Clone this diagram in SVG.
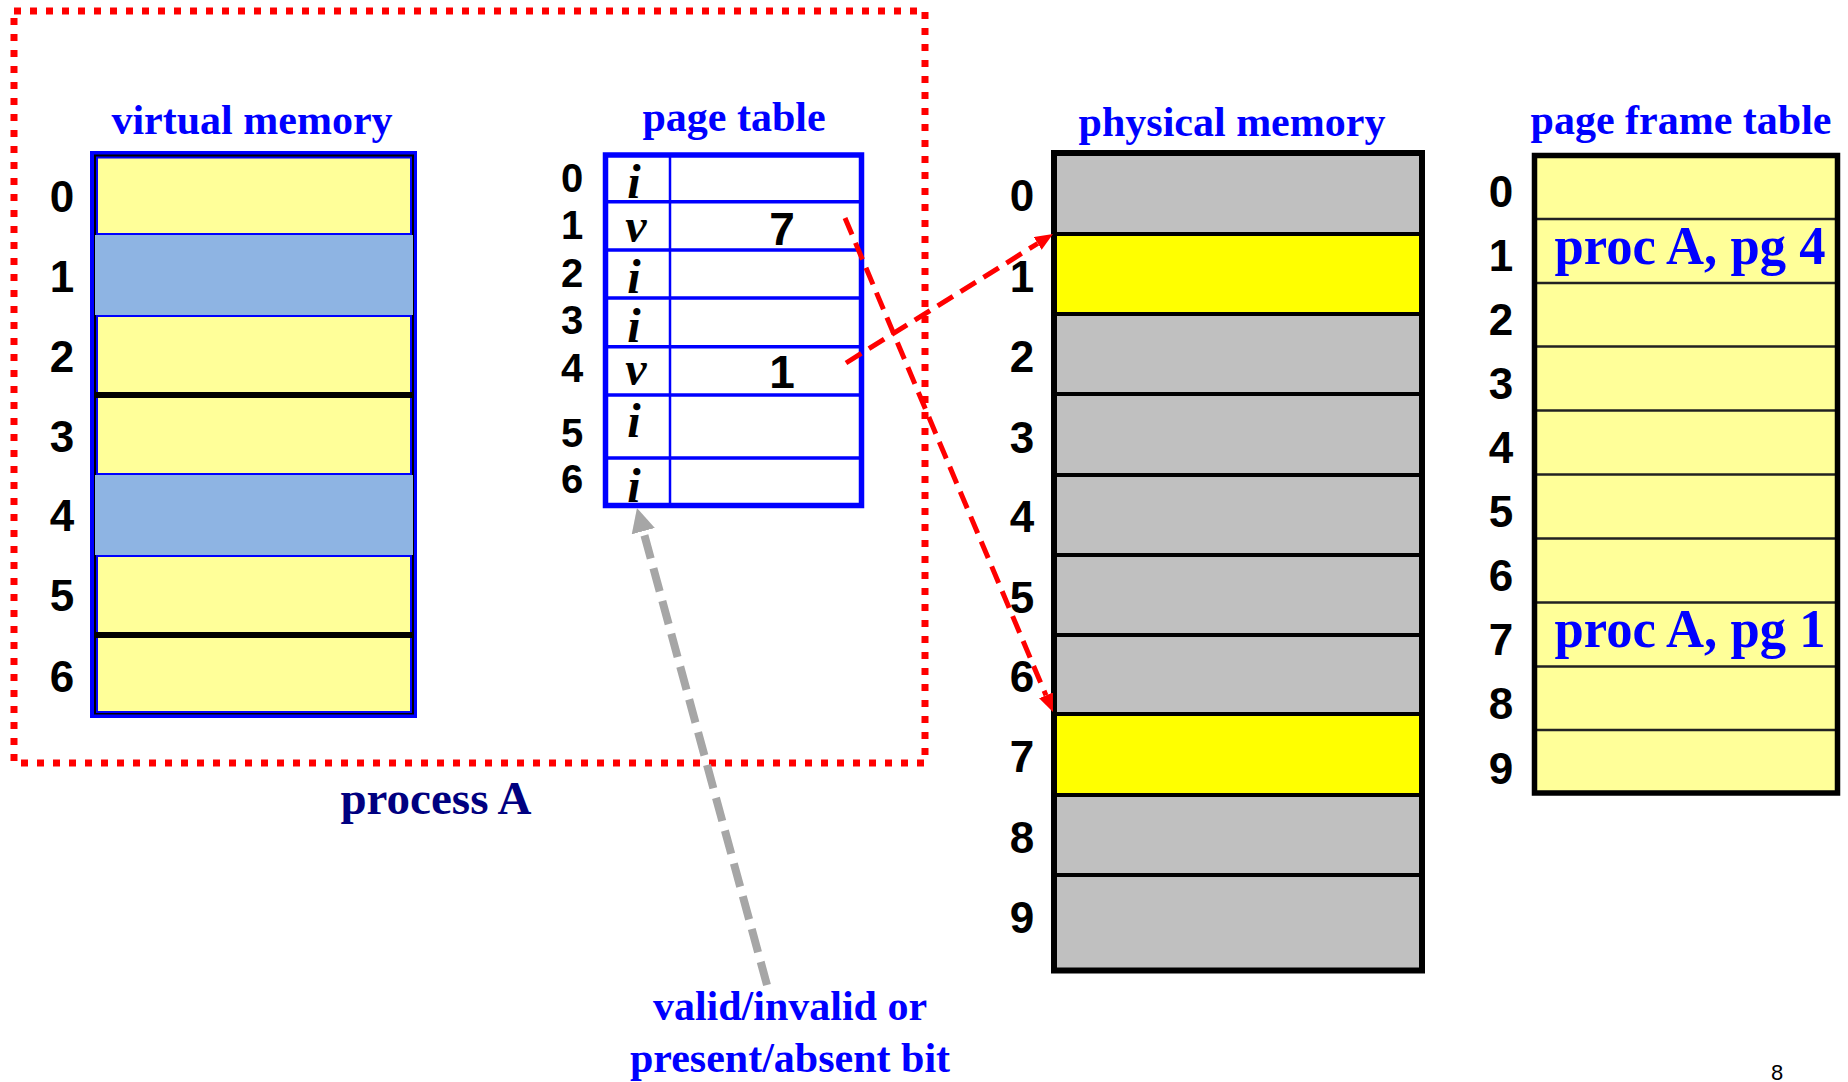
<svg xmlns="http://www.w3.org/2000/svg" width="1848" height="1082" viewBox="0 0 1848 1082">
  <defs>
    <style>
      .title{font-family:"Liberation Serif","Times New Roman",serif;font-weight:bold;font-size:42px;fill:#0000FF;text-anchor:middle}
      .num{font-family:"Liberation Sans",Arial,sans-serif;font-weight:bold;font-size:44px;fill:#000;text-anchor:middle}
      .pnum{font-family:"Liberation Sans",Arial,sans-serif;font-weight:bold;font-size:40px;fill:#000;text-anchor:middle}
      .bit{font-family:"Liberation Serif","Times New Roman",serif;font-style:italic;font-weight:bold;font-size:48px;fill:#000;text-anchor:middle}
      .val{font-family:"Liberation Sans",Arial,sans-serif;font-weight:bold;font-size:46px;fill:#000;text-anchor:middle}
      .proc{font-family:"Liberation Serif","Times New Roman",serif;font-weight:bold;font-size:54px;fill:#0000FF;text-anchor:middle}
      .procA{font-family:"Liberation Serif","Times New Roman",serif;font-weight:bold;font-size:47px;fill:#000080;text-anchor:middle}
      .vy{fill:#FFFF99;stroke:#0000FF;stroke-width:2}
      .vb{fill:#8EB4E3}
      .pg{fill:#C0C0C0}
      .py{fill:#FFFF00}
      .redarrow{fill:none;stroke:#FF0000;stroke-width:5;stroke-dasharray:18 9}
      .grayarrow{fill:none;stroke:#A6A6A6;stroke-width:8;stroke-dasharray:24 10}
    </style>
    <marker id="redHead" markerUnits="userSpaceOnUse" markerWidth="20" markerHeight="16" refX="0" refY="7.5" orient="auto">
      <path d="M0,0 L18,7.5 L0,15 z" fill="#FF0000"/>
    </marker>
    <marker id="grayHead" markerUnits="userSpaceOnUse" markerWidth="26" markerHeight="26" refX="0" refY="12" orient="auto">
      <path d="M0,0 L24,12 L0,24 z" fill="#A6A6A6"/>
    </marker>
  </defs>

  <rect width="1848" height="1082" fill="#FFFFFF"/>

  <g id="process-A-boundary">
    <rect x="14" y="11" width="911" height="752" fill="none" stroke="#FF0000" stroke-width="7" stroke-dasharray="7 9"/>
    <text class="procA" x="436" y="814">process A</text>
  </g>

  <g id="virtual-memory">
    <text class="title" x="252" y="134">virtual memory</text>
    <rect x="90" y="151" width="327" height="567" fill="#0000FF"/>
    <rect x="94" y="154.5" width="320" height="560" fill="#000000"/>
    <rect class="vy" x="97" y="157.5" width="314" height="76.5"/>
    <rect class="vb" x="95" y="235" width="318" height="80"/>
    <rect class="vy" x="97" y="316" width="314" height="78"/>
    <rect class="vy" x="97" y="396" width="314" height="78"/>
    <rect class="vb" x="95" y="475" width="318" height="80"/>
    <rect class="vy" x="97" y="556" width="314" height="78"/>
    <rect class="vy" x="97" y="636" width="314" height="76"/>
    <line x1="94" y1="395" x2="414" y2="395" stroke="#000" stroke-width="6"/>
    <line x1="94" y1="635" x2="414" y2="635" stroke="#000" stroke-width="6"/>
    <text class="num" x="62" y="212">0</text>
    <text class="num" x="62" y="292">1</text>
    <text class="num" x="62" y="372">2</text>
    <text class="num" x="62" y="452">3</text>
    <text class="num" x="62" y="531">4</text>
    <text class="num" x="62" y="611">5</text>
    <text class="num" x="62" y="692">6</text>
  </g>

  <g id="page-table">
    <text class="title" x="734" y="131">page table</text>
    <rect x="605.5" y="155" width="256" height="350.5" fill="#FFFFFF"/>
    <g stroke="#0000FF" stroke-width="3.5">
      <line x1="605.5" y1="201.7" x2="861.5" y2="201.7"/>
      <line x1="605.5" y1="250" x2="861.5" y2="250"/>
      <line x1="605.5" y1="298" x2="861.5" y2="298"/>
      <line x1="605.5" y1="346.7" x2="861.5" y2="346.7"/>
      <line x1="605.5" y1="395" x2="861.5" y2="395"/>
      <line x1="605.5" y1="458" x2="861.5" y2="458"/>
    </g>
    <line x1="670" y1="155" x2="670" y2="505.5" stroke="#0000FF" stroke-width="2.5"/>
    <rect x="605.5" y="155" width="256" height="350.5" fill="none" stroke="#0000FF" stroke-width="5.5"/>
    <text class="bit" x="634" y="198">i</text>
    <text class="bit" x="636" y="242">v</text>
    <text class="bit" x="634" y="293">i</text>
    <text class="bit" x="634" y="342">i</text>
    <text class="bit" x="636" y="385">v</text>
    <text class="bit" x="634" y="437">i</text>
    <text class="bit" x="634" y="502">i</text>
    <text class="val" x="782" y="245">7</text>
    <text class="val" x="782" y="388">1</text>
    <text class="pnum" x="572" y="192">0</text>
    <text class="pnum" x="572" y="239">1</text>
    <text class="pnum" x="572" y="287">2</text>
    <text class="pnum" x="572" y="334">3</text>
    <text class="pnum" x="572" y="382">4</text>
    <text class="pnum" x="572" y="447">5</text>
    <text class="pnum" x="572" y="493">6</text>
  </g>

  <g id="physical-memory">
    <text class="title" x="1232" y="136">physical memory</text>
    <rect class="pg" x="1054" y="153" width="368" height="81"/>
    <rect class="py" x="1054" y="234" width="368" height="80"/>
    <rect class="pg" x="1054" y="314" width="368" height="80"/>
    <rect class="pg" x="1054" y="394" width="368" height="81"/>
    <rect class="pg" x="1054" y="475" width="368" height="80"/>
    <rect class="pg" x="1054" y="555" width="368" height="80"/>
    <rect class="pg" x="1054" y="635" width="368" height="79"/>
    <rect class="py" x="1054" y="714" width="368" height="81"/>
    <rect class="pg" x="1054" y="795" width="368" height="80"/>
    <rect class="pg" x="1054" y="875" width="368" height="95.5"/>
    <g stroke="#000" stroke-width="4">
      <line x1="1054" y1="234" x2="1422" y2="234"/>
      <line x1="1054" y1="314" x2="1422" y2="314"/>
      <line x1="1054" y1="394" x2="1422" y2="394"/>
      <line x1="1054" y1="475" x2="1422" y2="475"/>
      <line x1="1054" y1="555" x2="1422" y2="555"/>
      <line x1="1054" y1="635" x2="1422" y2="635"/>
      <line x1="1054" y1="714" x2="1422" y2="714"/>
      <line x1="1054" y1="795" x2="1422" y2="795"/>
      <line x1="1054" y1="875" x2="1422" y2="875"/>
    </g>
    <rect x="1054" y="153" width="368" height="817.5" fill="none" stroke="#000" stroke-width="6"/>
    <text class="num" x="1022" y="211">0</text>
    <text class="num" x="1022" y="292">1</text>
    <text class="num" x="1022" y="372">2</text>
    <text class="num" x="1022" y="453">3</text>
    <text class="num" x="1022" y="532">4</text>
    <text class="num" x="1022" y="613">5</text>
    <text class="num" x="1022" y="692">6</text>
    <text class="num" x="1022" y="772">7</text>
    <text class="num" x="1022" y="853">8</text>
    <text class="num" x="1022" y="933">9</text>
  </g>

  <g id="page-frame-table">
    <text class="title" x="1681" y="134">page frame table</text>
    <rect x="1534.5" y="155.5" width="303" height="637.5" fill="#FFFF99"/>
    <g stroke="#222" stroke-width="2.5">
      <line x1="1534.5" y1="219" x2="1837.5" y2="219"/>
      <line x1="1534.5" y1="283" x2="1837.5" y2="283"/>
      <line x1="1534.5" y1="346.5" x2="1837.5" y2="346.5"/>
      <line x1="1534.5" y1="410.5" x2="1837.5" y2="410.5"/>
      <line x1="1534.5" y1="474.5" x2="1837.5" y2="474.5"/>
      <line x1="1534.5" y1="538.5" x2="1837.5" y2="538.5"/>
      <line x1="1534.5" y1="602.5" x2="1837.5" y2="602.5"/>
      <line x1="1534.5" y1="666.5" x2="1837.5" y2="666.5"/>
      <line x1="1534.5" y1="730" x2="1837.5" y2="730"/>
    </g>
    <rect x="1534.5" y="155.5" width="303" height="637.5" fill="none" stroke="#000" stroke-width="5.5"/>
    <text class="proc" x="1690" y="264" textLength="271" lengthAdjust="spacingAndGlyphs">proc A, pg 4</text>
    <text class="proc" x="1690" y="647" textLength="271" lengthAdjust="spacingAndGlyphs">proc A, pg 1</text>
    <text class="num" x="1501" y="207">0</text>
    <text class="num" x="1501" y="271">1</text>
    <text class="num" x="1501" y="335">2</text>
    <text class="num" x="1501" y="399">3</text>
    <text class="num" x="1501" y="463">4</text>
    <text class="num" x="1501" y="527">5</text>
    <text class="num" x="1501" y="591">6</text>
    <text class="num" x="1501" y="655">7</text>
    <text class="num" x="1501" y="719">8</text>
    <text class="num" x="1501" y="784">9</text>
  </g>

  <g id="bit-note">
    <text class="title" x="790" y="1020">valid/invalid or</text>
    <text class="title" x="790" y="1072">present/absent bit</text>
  </g>

  <g id="connectors">
    <line class="redarrow" x1="845" y1="218" x2="1046" y2="695.4" marker-end="url(#redHead)"/>
    <line class="redarrow" x1="846" y1="363" x2="1037.7" y2="243.5" marker-end="url(#redHead)"/>
    <line class="grayarrow" x1="767" y1="985" x2="643.3" y2="531.2" marker-end="url(#grayHead)"/>
  </g>

  <text x="1777" y="1080" font-family="Liberation Sans, Arial, sans-serif" font-size="22" text-anchor="middle" fill="#000">8</text>
</svg>
